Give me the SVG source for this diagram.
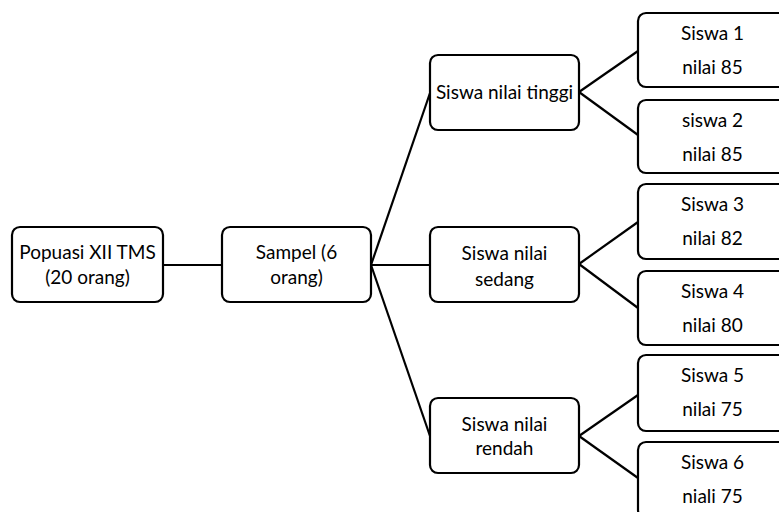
<svg xmlns="http://www.w3.org/2000/svg" width="779" height="512" viewBox="0 0 779 512">
<style>
.box{fill:#fff;stroke:#000;stroke-width:2.2}
.t{font-family:Lato,"Open Sans","Liberation Sans",sans-serif;font-size:19px;fill:#000;text-anchor:middle}
.c{stroke:#000;stroke-width:2.2;fill:none}
</style>
<rect width="779" height="512" fill="#fff"/>
<g id="connectors">
<line class="c" x1="163" y1="265" x2="222" y2="265"/>
<line class="c" x1="371" y1="265" x2="430" y2="93"/>
<line class="c" x1="371" y1="265" x2="430" y2="265"/>
<line class="c" x1="371" y1="265" x2="430" y2="436"/>
<line class="c" x1="579" y1="92" x2="638" y2="51"/>
<line class="c" x1="579" y1="92" x2="638" y2="135"/>
<line class="c" x1="579" y1="264" x2="638" y2="222"/>
<line class="c" x1="579" y1="264" x2="638" y2="308"/>
<line class="c" x1="579" y1="436" x2="638" y2="395"/>
<line class="c" x1="579" y1="436" x2="638" y2="478"/>
</g>
<g id="populasi"><rect class="box" x="12" y="227" width="151" height="75" rx="8"/><text class="t" x="87.5" y="259">Popuasi XII TMS</text><text class="t" x="87.5" y="284">(20 orang)</text></g>
<g id="sampel"><rect class="box" x="222" y="227" width="149" height="75" rx="8"/><text class="t" x="296.5" y="259">Sampel (6</text><text class="t" x="296.5" y="284">orang)</text></g>
<g id="tinggi"><rect class="box" x="430" y="55" width="149" height="75" rx="8"/><text class="t" x="504.5" y="99">Siswa nilai tinggi</text></g>
<g id="sedang"><rect class="box" x="430" y="227" width="149" height="75" rx="8"/><text class="t" x="504.5" y="260">Siswa nilai</text><text class="t" x="504.5" y="286">sedang</text></g>
<g id="rendah"><rect class="box" x="430" y="398" width="149" height="75" rx="8"/><text class="t" x="504.5" y="431">Siswa nilai</text><text class="t" x="504.5" y="455">rendah</text></g>
<g id="siswa1"><rect class="box" x="638" y="13" width="149" height="74" rx="8"/><text class="t" x="712.5" y="40">Siswa 1</text><text class="t" x="712.5" y="74">nilai 85</text></g>
<g id="siswa2"><rect class="box" x="638" y="100" width="149" height="73" rx="8"/><text class="t" x="712.5" y="127">siswa 2</text><text class="t" x="712.5" y="161">nilai 85</text></g>
<g id="siswa3"><rect class="box" x="638" y="184" width="149" height="75" rx="8"/><text class="t" x="712.5" y="211">Siswa 3</text><text class="t" x="712.5" y="245">nilai 82</text></g>
<g id="siswa4"><rect class="box" x="638" y="271" width="149" height="74" rx="8"/><text class="t" x="712.5" y="298">Siswa 4</text><text class="t" x="712.5" y="332">nilai 80</text></g>
<g id="siswa5"><rect class="box" x="638" y="355" width="149" height="76" rx="8"/><text class="t" x="712.5" y="382">Siswa 5</text><text class="t" x="712.5" y="416">nilai 75</text></g>
<g id="siswa6"><rect class="box" x="638" y="442" width="149" height="76" rx="8"/><text class="t" x="712.5" y="469">Siswa 6</text><text class="t" x="712.5" y="503">niali 75</text></g>
</svg>
